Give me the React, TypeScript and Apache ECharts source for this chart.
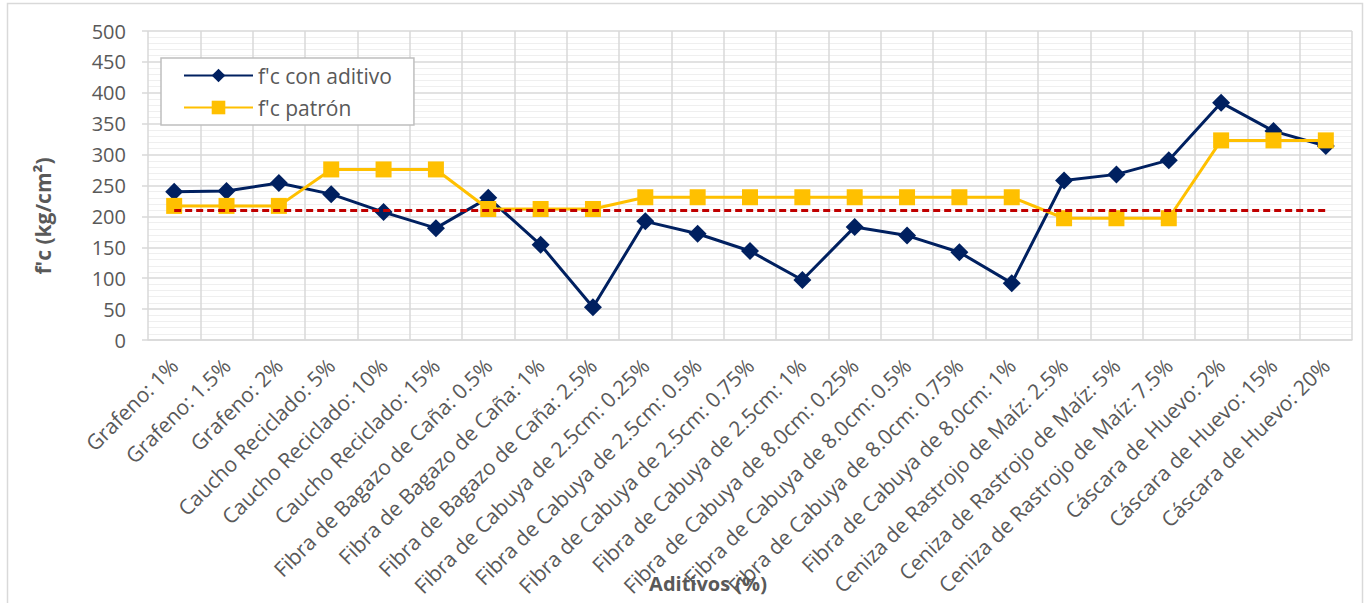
import React, { useEffect, useRef } from "react";
import * as echarts from "echarts";

const categories: string[] = [
  "Grafeno: 1%",
  "Grafeno: 1.5%",
  "Grafeno: 2%",
  "Caucho Reciclado: 5%",
  "Caucho Reciclado: 10%",
  "Caucho Reciclado: 15%",
  "Fibra de Bagazo de Caña: 0.5%",
  "Fibra de Bagazo de Caña: 1%",
  "Fibra de Bagazo de Caña: 2.5%",
  "Fibra de Cabuya de 2.5cm: 0.25%",
  "Fibra de Cabuya de 2.5cm: 0.5%",
  "Fibra de Cabuya de 2.5cm: 0.75%",
  "Fibra de Cabuya de 2.5cm: 1%",
  "Fibra de Cabuya de 8.0cm: 0.25%",
  "Fibra de Cabuya de 8.0cm: 0.5%",
  "Fibra de Cabuya de 8.0cm: 0.75%",
  "Fibra de Cabuya de 8.0cm: 1%",
  "Ceniza de Rastrojo de Maíz: 2.5%",
  "Ceniza de Rastrojo de Maíz: 5%",
  "Ceniza de Rastrojo de Maíz: 7.5%",
  "Cáscara de Huevo: 2%",
  "Cáscara de Huevo: 15%",
  "Cáscara de Huevo: 20%",
];

const fcConAditivo: number[] = [
  240, 241, 254, 236, 207, 181, 230, 154, 53, 192, 172, 144, 97, 183, 169, 142,
  92, 258, 268, 291, 384, 338, 314,
];

const fcPatron: number[] = [
  217, 217, 217, 276, 276, 276, 212, 212, 212, 231, 231, 231, 231, 231, 231,
  231, 231, 197, 197, 197, 323, 323, 323,
];

const referenceValue = 210;

const yTicks = { min: 0, max: 500, interval: 50 };

const FONT = "'Open Sans', 'Noto Sans', sans-serif";
const GRAY = "#595959";
const GRID = "#d9d9d9";

export default function App() {
  const ref = useRef<HTMLDivElement>(null);

  useEffect(() => {
    if (!ref.current) return;
    const chart = echarts.init(ref.current, undefined, { renderer: "svg" });
    chart.setOption({
      animation: false,
      backgroundColor: "#ffffff",
      textStyle: { fontFamily: FONT },
      grid: { left: 148, right: 19, top: 31, bottom: 263, containLabel: false },
      legend: {
        data: ["f'c con aditivo", "f'c patrón"],
        orient: "vertical",
        left: 161,
        top: 58,
        padding: [7, 22, 7, 22],
        itemGap: 11,
        itemWidth: 69,
        itemHeight: 17,
        borderColor: "#bfbfbf",
        borderWidth: 1.5,
        backgroundColor: "#ffffff",
        textStyle: { fontSize: 21, color: GRAY, fontFamily: FONT },
      },
      xAxis: {
        type: "category",
        data: categories,
        boundaryGap: true,
        axisTick: { show: false },
        axisLine: { lineStyle: { color: GRID, width: 1.5 } },
        splitLine: { show: true, lineStyle: { color: GRID, width: 1.5 } },
        axisLabel: {
          interval: 0,
          rotate: 45,
          margin: 22,
          fontSize: 21,
          color: GRAY,
          fontFamily: FONT,
        },
      },
      yAxis: {
        type: "value",
        min: yTicks.min,
        max: yTicks.max,
        interval: yTicks.interval,
        axisLine: { show: false },
        axisTick: { show: true, length: 6, lineStyle: { color: GRID, width: 1.5 } },
        minorTick: { show: false, splitNumber: 5 },
        minorSplitLine: { show: true, lineStyle: { color: "#efefef", width: 1 } },
        splitLine: { show: true, lineStyle: { color: GRID, width: 1.5 } },
        axisLabel: { margin: 22, fontSize: 20, color: GRAY, fontFamily: FONT },
      },
      series: [
        {
          name: "f'c con aditivo",
          type: "line",
          data: fcConAditivo,
          symbol: "diamond",
          symbolSize: 18,
          lineStyle: { color: "#002060", width: 3 },
          itemStyle: { color: "#002060" },
          z: 2,
        },
        {
          name: "f'c patrón",
          type: "line",
          data: fcPatron,
          symbol: "rect",
          symbolSize: 16,
          lineStyle: { color: "#FFC000", width: 3 },
          itemStyle: { color: "#FFC000" },
          z: 3,
        },
        {
          name: "referencia",
          type: "line",
          data: [],
          z: 4,
          markLine: {
            silent: true,
            symbol: "none",
            label: { show: false },
            lineStyle: { color: "#C00000", width: 3, type: [7, 4] },
            data: [
              [
                { xAxis: categories[0], yAxis: referenceValue },
                { xAxis: categories[categories.length - 1], yAxis: referenceValue },
              ],
            ],
          },
        },
      ],
      graphic: [
        {
          type: "rect",
          silent: true,
          shape: { x: 7.5, y: 3.5, width: 1355, height: 640 },
          style: { fill: "none", stroke: "#d9d9d9", lineWidth: 1.5 },
          z: -10,
        },
        {
          type: "text",
          x: 43,
          y: 216,
          rotation: Math.PI / 2,
          style: {
            text: "f'c (kg/cm²)",
            fontSize: 21,
            fontWeight: "bold",
            fontFamily: FONT,
            fill: GRAY,
            align: "center",
            verticalAlign: "middle",
          },
        },
        {
          type: "text",
          x: 708,
          y: 583,
          style: {
            text: "Aditivos (%)",
            fontSize: 20,
            fontWeight: "bold",
            fontFamily: FONT,
            fill: GRAY,
            align: "center",
            verticalAlign: "middle",
          },
          z: 100,
        },
      ],
    });
    return () => chart.dispose();
  }, []);

  return (
    <div
      ref={ref}
      style={{ position: "absolute", left: 0, top: 0, width: 1371, height: 603 }}
    />
  );
}
